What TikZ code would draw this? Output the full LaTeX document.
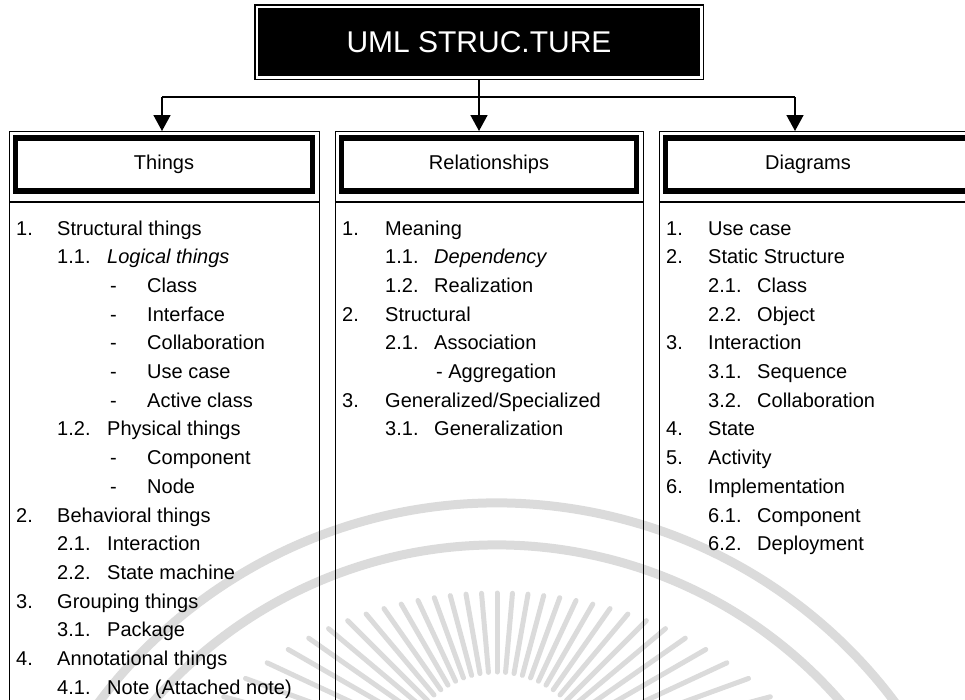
\documentclass[tikz,border=0pt]{standalone}
\usepackage{fontspec}
\setmainfont{Liberation Sans}
\usetikzlibrary{arrows.meta,fit,calc}

\begin{document}
\begin{tikzpicture}[x=1pt,y=-1pt,
  frame/.style={draw=black, line width=1.4pt},
  thickframe/.style={draw=black, line width=5.5pt, inner sep=0pt, minimum height=53pt},
  hdrtext/.style={inner sep=0pt, font=\fontsize{20}{24}\selectfont},
  item/.style={anchor=base west, inner sep=0pt, font=\fontsize{20}{24}\selectfont},
  link/.style={line width=1.6pt, -{Triangle[width=17pt,length=16pt]}},
  bus/.style={line width=1.6pt},
  wm/.style={draw=black!14, line cap=round}]
\useasboundingbox (0,0) rectangle (965,699);
\clip (0,0) rectangle (965,699);

% ---- faint emblem in the background ----
\coordinate (emb) at (497,1000);
\coordinate (sun) at (497,770);
\draw[wm, line width=9pt] ($(emb)+(-165:455)$) arc[start angle=-165, end angle=-15, radius=455];
\draw[wm, line width=9pt] ($(emb)+(-165:497)$) arc[start angle=-165, end angle=-15, radius=497];
\foreach \a in {-170,-165,...,-10}{
  \pgfmathsetmacro\s{23*sin(\a)}
  \pgfmathsetmacro\t{10*(\s+sqrt(\s*\s+1193.25))-8}
  \draw[wm, line width=5pt] ($(sun)+(\a:98)$) -- ($(sun)+(\a:\t)$);
}

% ---- title ----
\node[fill=black, text=white, minimum width=442pt, minimum height=68pt, inner sep=0pt,
      font=\fontsize{30}{36}\selectfont] (title) at (479,42) {UML STRUC.TURE};
\node[frame, fit=(title), inner sep=3pt] (titleframe) {};

% ---- column frames ----
\node[frame, anchor=north west, minimum width=310pt, minimum height=620pt, inner sep=0pt] (colT) at (9,131) {};
\node[frame, anchor=north west, minimum width=308pt, minimum height=620pt, inner sep=0pt] (colR) at (335,131) {};
\node[frame, anchor=north west, minimum width=330pt, minimum height=620pt, inner sep=0pt] (colD) at (659,131) {};
\draw[frame] (colT.west |- 0,202) -- (colT.east |- 0,202);
\draw[frame] (colR.west |- 0,202) -- (colR.east |- 0,202);
\draw[frame] (colD.west |- 0,202) -- (colD.east |- 0,202);

% ---- column headers ----
\node[thickframe, minimum width=297pt] (hdrT) at (164,164.5) {};
\node[thickframe, minimum width=295pt] (hdrR) at (489,164.5) {};
\node[thickframe, minimum width=317pt] (hdrD) at (824,164.5) {};
\node[hdrtext] (lblT) at (hdrT.center) {Things};
\node[hdrtext] (lblR) at (hdrR.center) {Relationships};
\node[hdrtext] (lblD) at (808,164.5) {Diagrams};

% ---- connectors ----
\coordinate (busL) at (162,97);
\coordinate (busR) at (795,97);
\coordinate (dropT) at (162,131);
\coordinate (dropD) at (795,131);
\draw[bus] (busL) -- (busR);
\draw[link] (titleframe.south -| title.south) -- (titleframe.south |- colR.north);
\draw[link] (busL) -- (dropT);
\draw[link] (busR) -- (dropD);

% ---- Things ----
\node[item] (t1)   at (16,{235+28.7*0})  {1.};
\node[item] (t1x)  at (57,{235+28.7*0})  {Structural things};
\node[item] (t11)  at (57,{235+28.7*1})  {1.1.};
\node[item] (t11x) at (107,{235+28.7*1}) {\itshape Logical things};
\node[item] (ta)   at (110,{235+28.7*2}) {-};
\node[item] (tax)  at (147,{235+28.7*2}) {Class};
\node[item] (tb)   at (110,{235+28.7*3}) {-};
\node[item] (tbx)  at (147,{235+28.7*3}) {Interface};
\node[item] (tc)   at (110,{235+28.7*4}) {-};
\node[item] (tcx)  at (147,{235+28.7*4}) {Collaboration};
\node[item] (td)   at (110,{235+28.7*5}) {-};
\node[item] (tdx)  at (147,{235+28.7*5}) {Use case};
\node[item] (te)   at (110,{235+28.7*6}) {-};
\node[item] (tex)  at (147,{235+28.7*6}) {Active class};
\node[item] (t12)  at (57,{235+28.7*7})  {1.2.};
\node[item] (t12x) at (107,{235+28.7*7}) {Physical things};
\node[item] (tf)   at (110,{235+28.7*8}) {-};
\node[item] (tfx)  at (147,{235+28.7*8}) {Component};
\node[item] (tg)   at (110,{235+28.7*9}) {-};
\node[item] (tgx)  at (147,{235+28.7*9}) {Node};
\node[item] (t2)   at (16,{235+28.7*10}) {2.};
\node[item] (t2x)  at (57,{235+28.7*10}) {Behavioral things};
\node[item] (t21)  at (57,{235+28.7*11}) {2.1.};
\node[item] (t21x) at (107,{235+28.7*11}) {Interaction};
\node[item] (t22)  at (57,{235+28.7*12}) {2.2.};
\node[item] (t22x) at (107,{235+28.7*12}) {State machine};
\node[item] (t3)   at (16,{235+28.7*13}) {3.};
\node[item] (t3x)  at (57,{235+28.7*13}) {Grouping things};
\node[item] (t31)  at (57,{235+28.7*14}) {3.1.};
\node[item] (t31x) at (107,{235+28.7*14}) {Package};
\node[item] (t4)   at (16,{235+28.7*15}) {4.};
\node[item] (t4x)  at (57,{235+28.7*15}) {Annotational things};
\node[item] (t41)  at (57,{235+28.7*16}) {4.1.};
\node[item] (t41x) at (107,{235+28.7*16}) {Note (Attached note)};

% ---- Relationships ----
\node[item] (r1)   at (342,{235+28.7*0}) {1.};
\node[item] (r1x)  at (385,{235+28.7*0}) {Meaning};
\node[item] (r11)  at (385,{235+28.7*1}) {1.1.};
\node[item] (r11x) at (434,{235+28.7*1}) {\itshape Dependency};
\node[item] (r12)  at (385,{235+28.7*2}) {1.2.};
\node[item] (r12x) at (434,{235+28.7*2}) {Realization};
\node[item] (r2)   at (342,{235+28.7*3}) {2.};
\node[item] (r2x)  at (385,{235+28.7*3}) {Structural};
\node[item] (r21)  at (385,{235+28.7*4}) {2.1.};
\node[item] (r21x) at (434,{235+28.7*4}) {Association};
\node[item] (r21a) at (436,{235+28.7*5}) {- Aggregation};
\node[item] (r3)   at (342,{235+28.7*6}) {3.};
\node[item] (r3x)  at (385,{235+28.7*6}) {Generalized/Specialized};
\node[item] (r31)  at (385,{235+28.7*7}) {3.1.};
\node[item] (r31x) at (434,{235+28.7*7}) {Generalization};

% ---- Diagrams ----
\node[item] (d1)   at (666,{235+28.7*0}) {1.};
\node[item] (d1x)  at (708,{235+28.7*0}) {Use case};
\node[item] (d2)   at (666,{235+28.7*1}) {2.};
\node[item] (d2x)  at (708,{235+28.7*1}) {Static Structure};
\node[item] (d21)  at (708,{235+28.7*2}) {2.1.};
\node[item] (d21x) at (757,{235+28.7*2}) {Class};
\node[item] (d22)  at (708,{235+28.7*3}) {2.2.};
\node[item] (d22x) at (757,{235+28.7*3}) {Object};
\node[item] (d3)   at (666,{235+28.7*4}) {3.};
\node[item] (d3x)  at (708,{235+28.7*4}) {Interaction};
\node[item] (d31)  at (708,{235+28.7*5}) {3.1.};
\node[item] (d31x) at (757,{235+28.7*5}) {Sequence};
\node[item] (d32)  at (708,{235+28.7*6}) {3.2.};
\node[item] (d32x) at (757,{235+28.7*6}) {Collaboration};
\node[item] (d4)   at (666,{235+28.7*7}) {4.};
\node[item] (d4x)  at (708,{235+28.7*7}) {State};
\node[item] (d5)   at (666,{235+28.7*8}) {5.};
\node[item] (d5x)  at (708,{235+28.7*8}) {Activity};
\node[item] (d6)   at (666,{235+28.7*9}) {6.};
\node[item] (d6x)  at (708,{235+28.7*9}) {Implementation};
\node[item] (d61)  at (708,{235+28.7*10}) {6.1.};
\node[item] (d61x) at (757,{235+28.7*10}) {Component};
\node[item] (d62)  at (708,{235+28.7*11}) {6.2.};
\node[item] (d62x) at (757,{235+28.7*11}) {Deployment};
\end{tikzpicture}
\end{document}
